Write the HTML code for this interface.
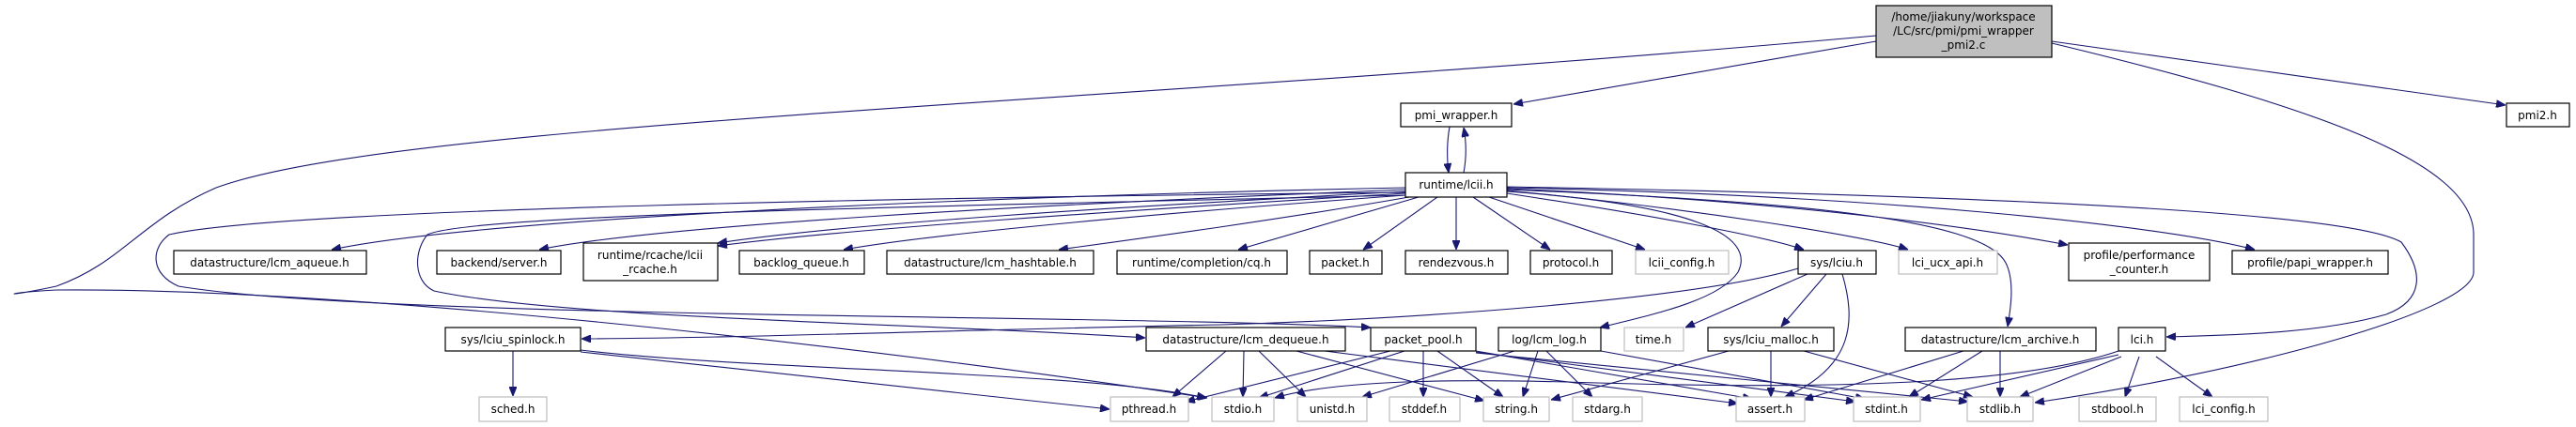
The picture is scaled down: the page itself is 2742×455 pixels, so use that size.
<!DOCTYPE html>
<html><head><meta charset="utf-8"><style>
html,body{margin:0;padding:0;background:#fff;}
svg{display:block;}
text{font-family:"DejaVu Sans","Liberation Sans",sans-serif;font-size:12px;fill:#000;}
.e{fill:none;stroke:#191970;stroke-width:1.1;}
</style></head><body>
<svg width="2742" height="455" viewBox="0 0 2742 455" xmlns="http://www.w3.org/2000/svg">
<defs>
<marker id="a" viewBox="0 0 10 8" refX="10" refY="4" markerWidth="10" markerHeight="8" markerUnits="userSpaceOnUse" orient="auto">
<path d="M0,0 L10,4 L0,8 z" fill="#191970" stroke="#191970"/>
</marker>
</defs>
<g class="e" marker-end="url(#a)">
<!-- main -->
<path d="M1997,44 L1611,111"/>
<path d="M2184,44 L2667,112"/>
<path d="M2184,46 C2450,110 2633,170 2633,250 L2633,290 C2633,330 2400,395 2166,429"/>
<path d="M1997,38 C1200,110 420,130 230,200 C150,235 130,280 60,305 C0,318 0,312 60,309 C400,306 1000,380 1285,424"/>
<!-- pmi_wrapper <-> lcii -->
<path d="M1543,135 C1540,152 1540,168 1542,184"/>
<path d="M1558,184 C1561,168 1561,152 1558,136"/>
<!-- lcii fan out -->
<path d="M1496,200 C1000,210 500,235 353,266"/>
<path d="M1496,202 C1100,218 700,240 574,266"/>
<path d="M1496,204 C1200,220 900,238 764,259"/>
<path d="M1496,206 C1200,224 900,244 764,262"/>
<path d="M1496,208 C1250,226 1000,248 898,266"/>
<path d="M1500,210 C1350,236 1200,256 1127,266"/>
<path d="M1510,210 L1318,266"/>
<path d="M1530,210 L1451,266"/>
<path d="M1550,210 L1550,266"/>
<path d="M1568,210 L1650,266"/>
<path d="M1585,210 L1751,266"/>
<path d="M1604,206 C1750,228 1880,252 1920,266"/>
<path d="M1604,203 C1800,222 1990,252 2031,266"/>
<path d="M1604,201 C1900,214 2100,242 2201,261"/>
<path d="M1604,200 C2000,208 2300,240 2400,266"/>
<path d="M1604,199 C2100,208 2500,225 2556,258 C2580,290 2580,320 2540,335 C2470,355 2380,357 2306,359"/>
<path d="M1604,202 C1900,214 2110,232 2135,280 C2145,300 2140,330 2137,348"/>
<path d="M1604,204 C1800,218 1870,250 1850,290 C1830,320 1760,335 1703,349"/>
<path d="M1496,208 C1000,220 500,228 455,250 C440,268 440,300 462,310 C600,340 1000,345 1219,360"/>
<path d="M1496,205 C1000,210 300,222 180,250 C160,265 160,292 190,305 C400,340 1200,335 1459,349"/>
<!-- lciu -->
<path d="M1914,286 C1800,320 1500,340 1300,346 C1000,352 800,360 619,361"/>
<path d="M1924,292 L1794,349"/>
<path d="M1944,292 L1896,348"/>
<path d="M1961,292 C1975,340 1975,390 1900,423"/>
<!-- spinlock -->
<path d="M546,374 L546,422"/>
<path d="M618,375 L1181,436"/>
<path d="M618,373 C800,395 1150,395 1284,424"/>
<!-- dequeue -->
<path d="M1305,374 L1248,423"/>
<path d="M1324,374 L1323,423"/>
<path d="M1340,374 L1390,423"/>
<path d="M1380,374 L1580,427"/>
<path d="M1410,374 L1850,430"/>
<!-- packet_pool -->
<path d="M1480,374 L1262,428"/>
<path d="M1495,374 L1340,424"/>
<path d="M1515,374 L1515,423"/>
<path d="M1530,374 L1600,423"/>
<path d="M1571,374 L1865,425"/>
<path d="M1571,375 L1975,428"/>
<path d="M1571,376 L2095,428"/>
<!-- log -->
<path d="M1612,374 L1450,423"/>
<path d="M1637,374 L1621,423"/>
<path d="M1646,374 L1695,423"/>
<path d="M1704,374 L1985,425"/>
<!-- malloc -->
<path d="M1840,374 L1651,426"/>
<path d="M1885,374 L1885,423"/>
<path d="M1920,374 L2100,423"/>
<!-- archive -->
<path d="M2090,374 L1920,426"/>
<path d="M2110,374 L2032,423"/>
<path d="M2129,374 L2129,423"/>
<!-- lci.h -->
<path d="M2255,374 C2150,410 1950,415 1700,408 C1550,403 1420,405 1357,424"/>
<path d="M2255,378 L2045,426"/>
<path d="M2258,380 L2150,423"/>
<path d="M2277,380 L2262,423"/>
<path d="M2295,380 L2355,423"/>
</g>
<g stroke-width="1.2">
<!-- black nodes -->
<g fill="#fff" stroke="#000">
<rect x="1997" y="6" width="187" height="55" fill="#bfbfbf"/>
<rect x="1491" y="110" width="118" height="25"/>
<rect x="2668" y="110" width="67" height="25"/>
<rect x="1496" y="184" width="108" height="26"/>
<rect x="185" y="267" width="205" height="25"/>
<rect x="465" y="267" width="132" height="25"/>
<rect x="621" y="259" width="143" height="40"/>
<rect x="787" y="267" width="133" height="25"/>
<rect x="944" y="267" width="220" height="25"/>
<rect x="1189" y="267" width="181" height="25"/>
<rect x="1394" y="267" width="77" height="25"/>
<rect x="1496" y="267" width="109" height="25"/>
<rect x="1629" y="267" width="87" height="25"/>
<rect x="1914" y="267" width="83" height="25"/>
<rect x="2202" y="259" width="150" height="40"/>
<rect x="2376" y="267" width="166" height="25"/>
<rect x="474" y="349" width="144" height="25"/>
<rect x="1220" y="349" width="212" height="25"/>
<rect x="1459" y="349" width="112" height="25"/>
<rect x="1595" y="349" width="109" height="25"/>
<rect x="1818" y="349" width="134" height="25"/>
<rect x="2028" y="349" width="203" height="25"/>
<rect x="2255" y="349" width="50" height="25"/>
</g>
<!-- gray nodes -->
<g fill="#fff" stroke="#bfbfbf">
<rect x="1741" y="267" width="99" height="25"/>
<rect x="2021" y="267" width="105" height="25"/>
<rect x="1729" y="349" width="63" height="25"/>
<rect x="510" y="423" width="72" height="26"/>
<rect x="1182" y="423" width="83" height="26"/>
<rect x="1290" y="423" width="66" height="26"/>
<rect x="1381" y="423" width="74" height="26"/>
<rect x="1479" y="423" width="75" height="26"/>
<rect x="1579" y="423" width="70" height="26"/>
<rect x="1674" y="423" width="74" height="26"/>
<rect x="1848" y="423" width="73" height="26"/>
<rect x="1973" y="423" width="71" height="26"/>
<rect x="2094" y="423" width="70" height="26"/>
<rect x="2213" y="423" width="82" height="26"/>
<rect x="2320" y="423" width="94" height="26"/>
</g>
</g>
<g text-anchor="middle">
<text x="2090" y="22">/home/jiakuny/workspace</text>
<text x="2090" y="37">/LC/src/pmi/pmi_wrapper</text>
<text x="2090" y="52">_pmi2.c</text>
<text x="1550" y="127">pmi_wrapper.h</text>
<text x="2701" y="127">pmi2.h</text>
<text x="1550" y="201">runtime/lcii.h</text>
<text x="287" y="284">datastructure/lcm_aqueue.h</text>
<text x="531" y="284">backend/server.h</text>
<text x="692" y="276">runtime/rcache/lcii</text>
<text x="692" y="291">_rcache.h</text>
<text x="853" y="284">backlog_queue.h</text>
<text x="1054" y="284">datastructure/lcm_hashtable.h</text>
<text x="1279" y="284">runtime/completion/cq.h</text>
<text x="1432" y="284">packet.h</text>
<text x="1550" y="284">rendezvous.h</text>
<text x="1672" y="284">protocol.h</text>
<text x="1790" y="284">lcii_config.h</text>
<text x="1955" y="284">sys/lciu.h</text>
<text x="2073" y="284">lci_ucx_api.h</text>
<text x="2277" y="276">profile/performance</text>
<text x="2277" y="291">_counter.h</text>
<text x="2459" y="284">profile/papi_wrapper.h</text>
<text x="546" y="366">sys/lciu_spinlock.h</text>
<text x="1326" y="366">datastructure/lcm_dequeue.h</text>
<text x="1515" y="366">packet_pool.h</text>
<text x="1649" y="366">log/lcm_log.h</text>
<text x="1760" y="366">time.h</text>
<text x="1885" y="366">sys/lciu_malloc.h</text>
<text x="2129" y="366">datastructure/lcm_archive.h</text>
<text x="2280" y="366">lci.h</text>
<text x="546" y="440">sched.h</text>
<text x="1223" y="440">pthread.h</text>
<text x="1323" y="440">stdio.h</text>
<text x="1418" y="440">unistd.h</text>
<text x="1516" y="440">stddef.h</text>
<text x="1614" y="440">string.h</text>
<text x="1711" y="440">stdarg.h</text>
<text x="1884" y="440">assert.h</text>
<text x="2008" y="440">stdint.h</text>
<text x="2129" y="440">stdlib.h</text>
<text x="2254" y="440">stdbool.h</text>
<text x="2367" y="440">lci_config.h</text>
</g>
</svg>
</body></html>
